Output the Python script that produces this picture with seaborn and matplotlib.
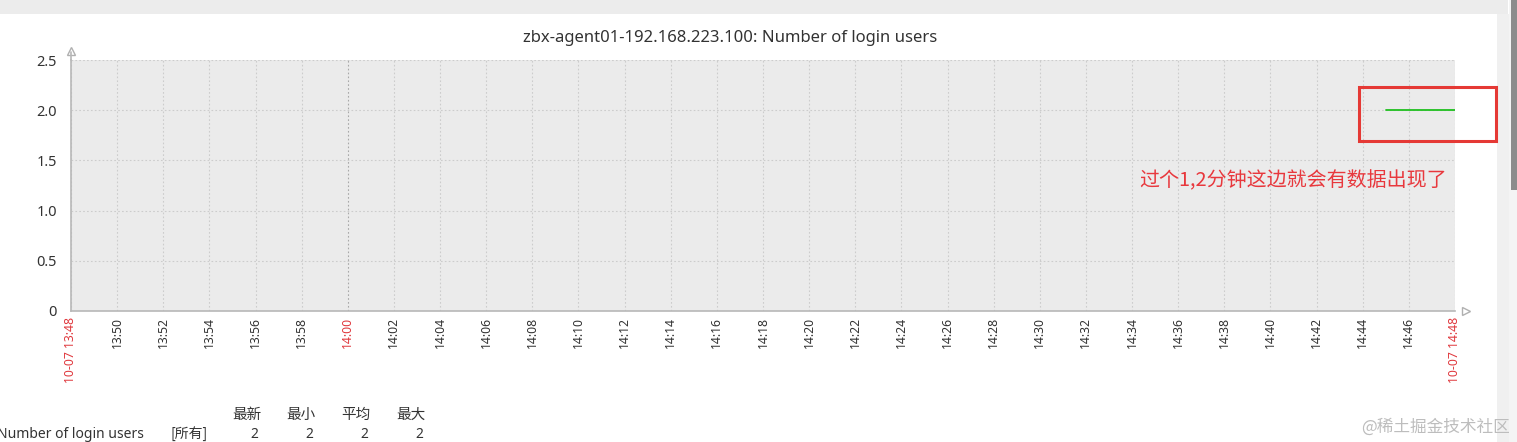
import matplotlib
matplotlib.use("Agg")
import matplotlib.pyplot as plt
import seaborn as sns
from matplotlib.patches import Rectangle

# minutes after 10-07 13:48
tick_minutes = [0, 2, 4, 6, 8, 10, 12, 14, 16, 18, 20, 22, 24, 26, 28, 30,
                32, 34, 36, 38, 40, 42, 44, 46, 48, 50, 52, 54, 56, 58, 60]
tick_labels = ["10-07 13:48", "13:50", "13:52", "13:54", "13:56", "13:58", "14:00",
               "14:02", "14:04", "14:06", "14:08", "14:10", "14:12", "14:14", "14:16",
               "14:18", "14:20", "14:22", "14:24", "14:26", "14:28", "14:30", "14:32",
               "14:34", "14:36", "14:38", "14:40", "14:42", "14:44", "14:46", "10-07 14:48"]
red_labels = ["10-07 13:48", "14:00", "10-07 14:48"]
y_ticks = [0, 0.5, 1.0, 1.5, 2.0, 2.5]
y_labels = ["0", "0.5", "1.0", "1.5", "2.0", "2.5"]

# login users series (data appears only in the last few minutes)
line_minutes = [57, 58, 59, 60]
line_values = [2, 2, 2, 2]

title = "zbx-agent01-192.168.223.100: Number of login users"
item_name = "Number of login users"
stat_headers = ["最新", "最小", "平均", "最大"]
stat_values = ["2", "2", "2", "2"]
note = "过个1,2分钟这边就会有数据出现了"
watermark = "@稀土掘金技术社区"

sns.set_theme(style="white")
plt.rcParams["font.family"] = ["Noto Sans", "Noto Sans CJK SC", "DejaVu Sans"]

fig = plt.figure(figsize=(15.17, 4.42), dpi=100)
W, H = 1517, 442


def fx(px):
    return px / W


def fy(py):
    return 1 - py / H


# page chrome: top band, right band, scrollbar
fig.patches.append(Rectangle((0, fy(14)), fx(1508), 14 / H, transform=fig.transFigure,
                             facecolor="#ececec", edgecolor="none", zorder=0))
fig.patches.append(Rectangle((fx(1497), 0), fx(12), fy(14), transform=fig.transFigure,
                             facecolor="#f0f0f0", edgecolor="none", zorder=0))
fig.patches.append(Rectangle((fx(1509), 0), fx(8), 1, transform=fig.transFigure,
                             facecolor="#f4f4f4", edgecolor="none", zorder=0))
fig.patches.append(Rectangle((fx(1511), fy(190)), fx(6), 190 / H, transform=fig.transFigure,
                             facecolor="#8c8c8c", edgecolor="none", zorder=0))

ax = fig.add_axes([fx(71), fy(311), fx(1455 - 71), (311 - 60) / H])
ax.set_facecolor("#ebebeb")

sns.lineplot(x=line_minutes, y=line_values, ax=ax, color="#1fbf1f", linewidth=1.3)

ax.set_xlim(0, 60)
ax.set_ylim(0, 2.5)
ax.set_xticks(tick_minutes)
ax.set_xticklabels(tick_labels, rotation=90, fontsize=8.8, color="#333333")
for lab in ax.get_xticklabels():
    if lab.get_text() in red_labels:
        lab.set_color("#e0393e")
ax.set_yticks(y_ticks)
ax.set_yticklabels(y_labels, fontsize=10.5, color="#333333")
ax.tick_params(axis="x", length=0, pad=4)
ax.tick_params(axis="y", length=0, pad=10)

for m in tick_minutes:
    c = "#a8a8a8" if m == 12 else "#cccccc"
    ax.axvline(m, color=c, linestyle=(0, (1.5, 2)), linewidth=0.8, zorder=0)
for v in y_ticks[1:]:
    ax.axhline(v, color="#cccccc", linestyle=(0, (1.5, 2)), linewidth=0.8, zorder=0)

for s in ["top", "right"]:
    ax.spines[s].set_visible(False)
for s in ["left", "bottom"]:
    ax.spines[s].set_color("#b8b8b8")
    ax.spines[s].set_linewidth(1.2)

# axis arrows
ax.plot([0], [1.035], transform=ax.transAxes, marker="^", markersize=6,
        mfc="white", mec="#b0b0b0", clip_on=False)
ax.plot([1.008], [0], transform=ax.transAxes, marker=">", markersize=6,
        mfc="white", mec="#b0b0b0", clip_on=False)
ax.plot([0, 0], [1.0, 1.03], transform=ax.transAxes, color="#b8b8b8", lw=1.2, clip_on=False)

fig.text(fx(730), fy(38), title, ha="center", va="center", fontsize=12, color="#333333")

# red annotation box and note
fig.patches.append(Rectangle((fx(1359), fy(141)), fx(1496 - 1359), (141 - 87) / H,
                             transform=fig.transFigure, facecolor="none",
                             edgecolor="#e53935", linewidth=2.2, zorder=5))
fig.text(fx(1293), fy(181), note, ha="center", va="center", fontsize=14.4,
         color="#e8383d", family=["Noto Sans CJK SC", "DejaVu Sans"])

# legend table
header_x = [247, 301, 356, 411]
value_x = [258, 313, 368, 423]
for hx, h in zip(header_x, stat_headers):
    fig.text(fx(hx), fy(415), h, ha="center", va="center", fontsize=10.5,
             color="#333333", weight="medium", family=["Noto Sans CJK SC", "DejaVu Sans"])
fig.text(fx(-3), fy(434), item_name, ha="left", va="center", fontsize=10, color="#333333")
fig.text(fx(170), fy(434), "[所有]", ha="left", va="center", fontsize=10,
         color="#333333", family=["Noto Sans CJK SC", "DejaVu Sans"])
for vx, v in zip(value_x, stat_values):
    fig.text(fx(vx), fy(434), v, ha="right", va="center", fontsize=10, color="#333333")

fig.text(fx(1510), fy(427), watermark, ha="right", va="center", fontsize=12,
         color="#bdbdbd", family=["Noto Sans CJK SC", "DejaVu Sans"])

fig.savefig("out.png", dpi=100, facecolor="white")
